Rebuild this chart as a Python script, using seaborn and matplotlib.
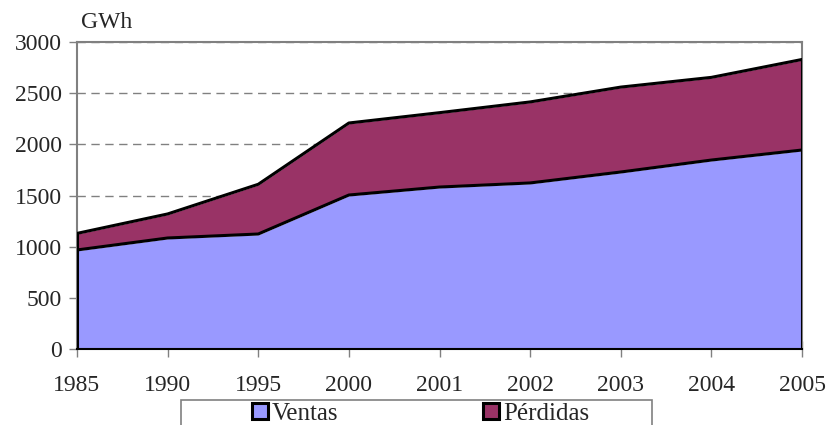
import matplotlib
matplotlib.use("Agg")
import matplotlib.pyplot as plt
import seaborn as sns
import numpy as np
from matplotlib.patches import Patch, Rectangle

# data (GWh)
years = ["1985", "1990", "1995", "2000", "2001", "2002", "2003", "2004", "2005"]
ventas = [968, 1085, 1124, 1505, 1583, 1623, 1730, 1847, 1945]
total = [1130, 1320, 1610, 2209, 2310, 2415, 2560, 2655, 2830]
perdidas = [t - v for t, v in zip(total, ventas)]

sns.set_style("white")
plt.rcParams["font.family"] = ["Liberation Serif", "DejaVu Serif"]

fig = plt.figure(figsize=(8.26, 4.25), dpi=100)
ax = fig.add_axes([0.0932, 0.1788, 0.8778, 0.7222])

x = np.arange(len(years))
ax.stackplot(x, ventas, perdidas, colors=["#9999FF", "#993366"], zorder=2)

# outlines of the stacked areas
cum = np.cumsum([ventas, perdidas], axis=0)
for row in cum:
    sns.lineplot(x=x, y=row, ax=ax, color="black", linewidth=2.2, zorder=3)
ax.plot([x[-1], x[-1]], [0, cum[-1][-1]], color="black", lw=2.2, zorder=3)
ax.plot([x[0], x[0]], [0, cum[-1][0]], color="black", lw=2.2, zorder=3)

ax.set_xlim(0, len(years) - 1)
ax.set_ylim(0, 3000)
ax.set_yticks(np.arange(0, 3001, 500))
ax.set_xticks(x)
ax.set_xticklabels(years)
ax.yaxis.grid(True, linestyle=(0, (6, 4)), color="#808080", linewidth=1, zorder=1)
ax.set_axisbelow(True)

for s in ax.spines.values():
    s.set_color("#808080")
    s.set_linewidth(1.5)
ax.spines["bottom"].set_color("black")
ax.spines["bottom"].set_zorder(4)

ax.tick_params(axis="y", direction="out", length=6, width=1, color="#808080",
               labelsize=17, pad=5, left=True)
ax.tick_params(axis="x", direction="inout", length=12, width=1, color="#808080",
               labelsize=17, pad=13, bottom=True)

fig.text(0.098, 0.948, "GWh", fontsize=17, ha="left", va="center")

# legend frame, partly cut off at the bottom as in the original
fig.patches.append(Rectangle((181 / 826, -0.05), 471 / 826, 1 - 400 / 425 + 0.05,
                             transform=fig.transFigure, facecolor="white",
                             edgecolor="#808080", linewidth=1.2))
handles = [Patch(facecolor="#9999FF", edgecolor="black", linewidth=2.2, label="Ventas"),
           Patch(facecolor="#993366", edgecolor="black", linewidth=2.2, label="Pérdidas")]
fig.legend(handles=handles, ncol=2, loc="center",
           bbox_to_anchor=(0.509, 0.027), frameon=False, fontsize=18,
           handlelength=0.64, handleheight=0.64, handletextpad=0.15,
           borderpad=0.0, columnspacing=5.8)

fig.savefig("out.png", dpi=100)
